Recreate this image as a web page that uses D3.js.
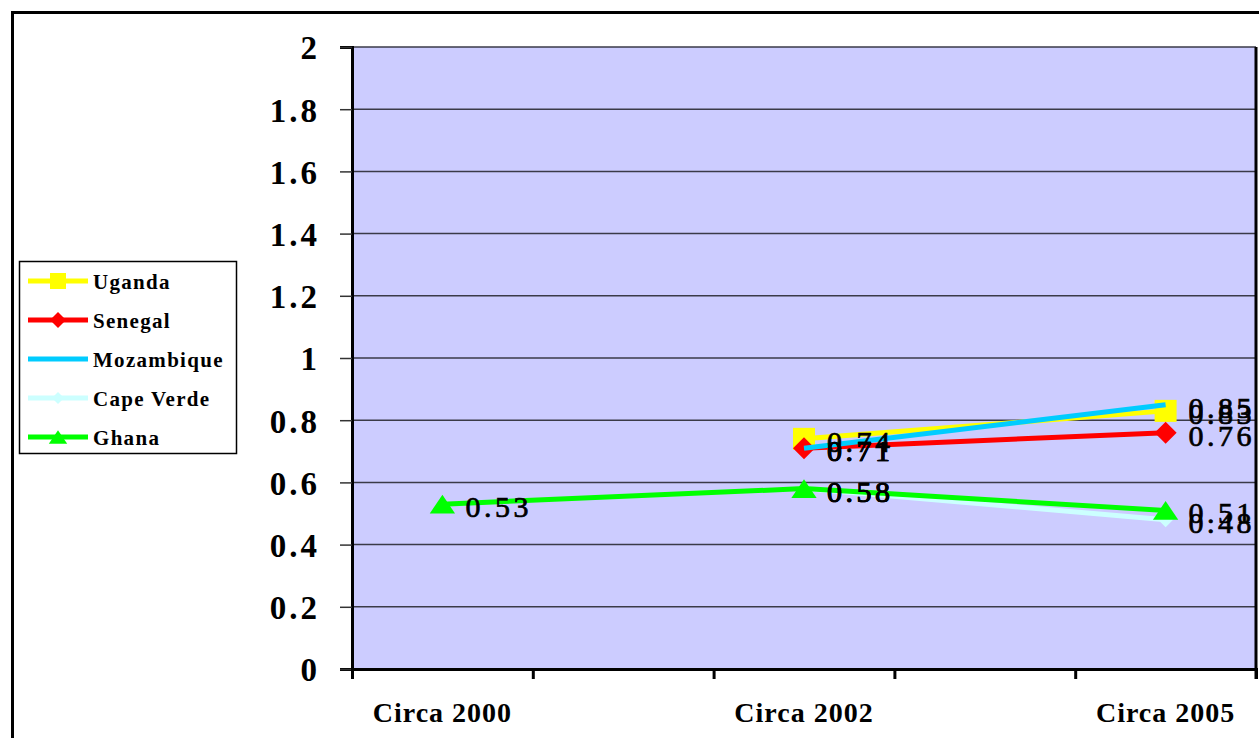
<!DOCTYPE html>
<html>
<head>
<meta charset="utf-8">
<script src="https://cdn.jsdelivr.net/npm/d3@7"></script>
<style>
  html, body { margin: 0; padding: 0; background: #fff; overflow: hidden; }
  svg { display: block; }
</style>
</head>
<body>
<svg id="chart" width="1259" height="738"></svg>
<script>
// categories (every other slot is unlabelled, like the original axis)
const tickLabels = ["Circa 2000", "", "Circa 2002", "", "Circa 2005"];
const yTicks = [0, 0.2, 0.4, 0.6, 0.8, 1, 1.2, 1.4, 1.6, 1.8, 2];

const countries = ["Uganda", "Senegal", "Mozambique", "Cape Verde", "Ghana"];
const uganda     = [null, null, 0.74, null, 0.83];
const senegal    = [null, null, 0.71, null, 0.76];
const mozambique = [null, null, 0.71, null, 0.85];
const capeVerde  = [null, null, 0.58, null, 0.48];
const ghana      = [0.53, null, 0.58, null, 0.51];

const colours = ["#ffff00", "#ff0000", "#00ccff", "#ccffff", "#00ff00"];
const markers = ["square", "diamond", "none", "diamond", "triangle"];

const renderChart = (selector) => {
    const svg = d3.select(selector);
    const plot = {left: 352, right: 1256, top: 47, bottom: 669};
    const serif = "Liberation Serif, Times New Roman, serif";

    // outer chart frame (only top and left edges are visible)
    svg.append("path")
        .attr("d", "M12.5,745 V12.5 H1265")
        .attr("fill", "none")
        .attr("stroke", "#000")
        .attr("stroke-width", 3);

    const x = d3.scaleBand()
        .domain(d3.range(tickLabels.length))
        .range([plot.left, plot.right]);
    const xEdges = d3.scaleLinear()
        .domain([0, tickLabels.length])
        .range([plot.left, plot.right]);
    const y = d3.scaleLinear()
        .domain([0, 2])
        .range([plot.bottom, plot.top]);
    const cx = i => x(i) + x.bandwidth() / 2;

    // plot area
    svg.append("rect")
        .attr("x", plot.left)
        .attr("y", plot.top)
        .attr("width", plot.right - plot.left)
        .attr("height", plot.bottom - plot.top)
        .attr("fill", "#ccccff");

    // gridlines
    svg.append("g")
        .selectAll("line")
        .data(yTicks.filter(d => d > 0))
        .join("line")
        .attr("x1", plot.left)
        .attr("x2", plot.right)
        .attr("y1", d => y(d))
        .attr("y2", d => y(d))
        .attr("stroke", "#3a3a48")
        .attr("stroke-width", 1.5);

    // right edge of the plot area
    svg.append("line")
        .attr("x1", plot.right).attr("x2", plot.right)
        .attr("y1", plot.top).attr("y2", plot.bottom + 10)
        .attr("stroke", "#000")
        .attr("stroke-width", 3);

    // y axis
    const yAxis = svg.append("g")
        .attr("transform", `translate(${plot.left},0)`)
        .call(d3.axisLeft(y).tickValues(yTicks).tickSize(12).tickPadding(20)
            .tickFormat(d => d3.format("")(+d.toFixed(1))));
    yAxis.select(".domain").attr("stroke", "#000").attr("stroke-width", 3);
    yAxis.selectAll(".tick line").attr("stroke", "#333").attr("stroke-width", 1.5);
    yAxis.selectAll(".tick text")
        .attr("font-family", serif)
        .attr("font-weight", "bold")
        .attr("font-size", 33)
        .attr("letter-spacing", 3)
        .attr("fill", "#000")
        .attr("dy", "0.36em");

    // x axis: tick marks on category edges, labels on centres
    const xTickAxis = svg.append("g")
        .attr("transform", `translate(0,${plot.bottom})`)
        .call(d3.axisBottom(xEdges).tickValues(d3.range(tickLabels.length + 1))
            .tickSize(10).tickFormat(""));
    xTickAxis.select(".domain").attr("stroke", "#000").attr("stroke-width", 3);
    xTickAxis.selectAll(".tick line").attr("stroke", "#000").attr("stroke-width", 3);

    const xLabelAxis = svg.append("g")
        .attr("transform", `translate(0,${plot.bottom})`)
        .call(d3.axisBottom(x).tickSize(0).tickPadding(33)
            .tickFormat(i => tickLabels[i]));
    xLabelAxis.select(".domain").remove();
    xLabelAxis.selectAll(".tick text")
        .attr("font-family", serif)
        .attr("font-weight", "bold")
        .attr("font-size", 28)
        .attr("letter-spacing", 1)
        .attr("fill", "#000");

    const symbolPath = (type, size) => {
        if (type === "square") return d3.symbol(d3.symbolSquare, size * size)();
        if (type === "diamond") {
            const h = size / 2;
            return `M0,${-h}L${h},0L0,${h}L${-h},0Z`;
        }
        if (type === "triangle") {
            const h = size / 2;
            return `M0,${-h * 0.85}L${h * 1.15},${h * 0.85}L${-h * 1.15},${h * 0.85}Z`;
        }
        return null;
    };

    const allSeries = [uganda, senegal, mozambique, capeVerde, ghana];
    const line = d3.line().x(d => cx(d.i)).y(d => y(d.v));

    allSeries.forEach((values, s) => {
        const pts = values.map((v, i) => ({i, v})).filter(d => d.v !== null);
        const g = svg.append("g");
        g.append("path")
            .datum(pts)
            .attr("d", line)
            .attr("fill", "none")
            .attr("stroke", colours[s])
            .attr("stroke-width", 5);
        if (markers[s] !== "none") {
            const size = s === 3 ? 15 : 22;
            g.selectAll(".mark")
                .data(pts)
                .join("path")
                .attr("class", "mark")
                .attr("transform", d => `translate(${cx(d.i)},${y(d.v)})`)
                .attr("d", symbolPath(markers[s], size))
                .attr("fill", colours[s]);
        }
    });

    // data labels on top
    allSeries.forEach((values) => {
        const pts = values.map((v, i) => ({i, v})).filter(d => d.v !== null);
        svg.append("g")
            .selectAll("text")
            .data(pts)
            .join("text")
            .attr("x", d => cx(d.i) + 23)
            .attr("y", d => y(d.v) + 13)
            .attr("font-family", serif)
            .attr("font-size", 30)
            .attr("letter-spacing", 3.5)
            .attr("fill", "#000")
            .attr("stroke", "#000")
            .attr("stroke-width", 0.7)
            .text(d => d.v.toFixed(2));
    });

    // legend
    const legend = svg.append("g");
    legend.append("rect")
        .attr("x", 19.5).attr("y", 261.5)
        .attr("width", 217).attr("height", 192)
        .attr("fill", "#fff")
        .attr("stroke", "#000")
        .attr("stroke-width", 1.5);
    const legendY = d3.scalePoint().domain(countries).range([281, 437]);
    countries.forEach((name, s) => {
        const ly = legendY(name);
        legend.append("line")
            .attr("x1", 28).attr("x2", 88)
            .attr("y1", ly).attr("y2", ly)
            .attr("stroke", colours[s])
            .attr("stroke-width", 5);
        if (markers[s] !== "none") {
            legend.append("path")
                .attr("transform", `translate(58,${ly})`)
                .attr("d", symbolPath(markers[s], s === 3 ? 12 : 16))
                .attr("fill", colours[s]);
        }
        legend.append("text")
            .attr("x", 93)
            .attr("y", ly + 8)
            .attr("font-family", serif)
            .attr("font-weight", "bold")
            .attr("font-size", 21)
            .attr("letter-spacing", 1.3)
            .attr("fill", "#000")
            .text(name);
    });
};

document.addEventListener('DOMContentLoaded', () => {
    renderChart("#chart");
});
</script>
</body>
</html>
